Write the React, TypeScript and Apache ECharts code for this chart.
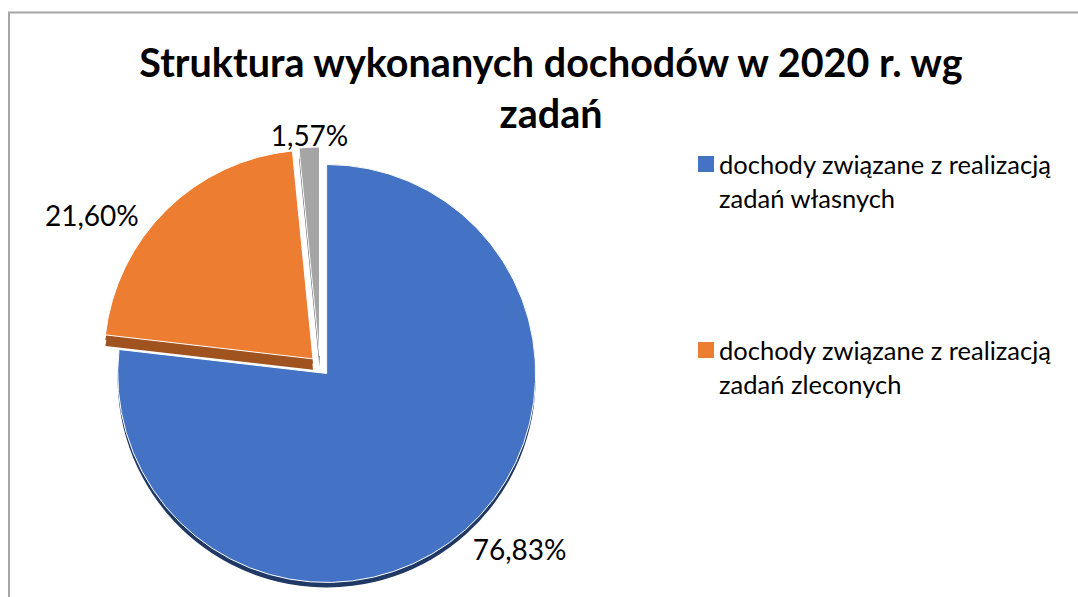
import React, { useEffect, useRef } from 'react';
import * as echarts from 'echarts';

const TITLE_LINES = ['Struktura wykonanych dochodów w 2020 r. wg', 'zadań'];
const categories = [
  'dochody związane z realizacją zadań własnych',
  'dochody związane z realizacją zadań zleconych',
  'pozostałe dochody',
];
const legendLines = [
  ['dochody związane z realizacją', 'zadań własnych'],
  ['dochody związane z realizacją', 'zadań zleconych'],
];
const values = [76.83, 21.6, 1.57];
const exploded = [true, true, true];
const faceColors = ['#4472C4', '#ED7D31', '#A5A5A5'];
const sideColors = ['#1F3864', '#A0521F', '#6B6B6B'];
const labelShift = [
  [-10, 6],
  [-10, 18],
  [45, 6],
];

const CLEAR = 'rgba(0,0,0,0)';
const FONT = 'Lato, "Open Sans", sans-serif';

function fmt(v: number) {
  return v.toFixed(2).replace('.', ',') + '%';
}

export default function App() {
  const ref = useRef<HTMLDivElement>(null);
  useEffect(() => {
    document.body.style.margin = '0';
    const chart = echarts.init(ref.current!, null, { renderer: 'svg' });
    const cx = 320;
    const cy = 366;
    const radius = 209;

    const mkData = (visible: (i: number) => boolean, colors: string[], labels: boolean) =>
      values.map((v, i) => ({
        name: categories[i],
        value: v,
        selected: exploded[i],
        itemStyle: {
          color: visible(i) ? colors[i] : CLEAR,
          borderColor: visible(i) && labels ? '#ffffff' : CLEAR,
          borderWidth: visible(i) && labels ? 1 : 0,
        },
        label: { show: labels && visible(i) },
      }));

    const base = {
      type: 'pie',
      radius,
      startAngle: 90,
      clockwise: true,
      selectedMode: 'multiple',
      selectedOffset: 10,
      avoidLabelOverlap: false,
      emphasis: { disabled: true },
      silent: true,
      labelLine: { show: false, length: 18, length2: 0 },
      label: {
        show: true,
        position: 'outside',
        formatter: (p: any) => fmt(p.value),
        fontFamily: FONT,
        fontSize: 28,
        color: '#000',
      },
      labelLayout: (p: any) => ({ dx: labelShift[p.dataIndex][0], dy: labelShift[p.dataIndex][1] }),
    };

    chart.setOption({
      animation: false,
      backgroundColor: '#fff',
      legend: {
        orient: 'vertical',
        left: 693,
        top: 108,
        itemWidth: 16,
        itemHeight: 16,
        itemGap: 84,
        icon: 'rect',
        selectedMode: false,
        data: [0, 1].map((i) => ({ name: categories[i], itemStyle: { color: faceColors[i] } })),
        formatter: (name: string) => '\n' + legendLines[categories.indexOf(name)].join('\n'),
        textStyle: { fontFamily: FONT, fontSize: 25.5, lineHeight: 34, color: '#000' },
      },
      graphic: [
        {
          type: 'rect',
          shape: { x: 9, y: 12.5, width: 1200, height: 800 },
          style: { fill: 'none', stroke: '#A6A6A6', lineWidth: 2 },
          silent: true,
        },
        {
          type: 'text',
          x: 551,
          y: 36,
          silent: true,
          style: {
            text: TITLE_LINES.join('\n'),
            textAlign: 'center',
            textVerticalAlign: 'top',
            fontFamily: FONT,
            fontWeight: 'bold',
            fontSize: 39.5,
            lineHeight: 51,
            fill: '#000',
          },
        },
      ],
      series: [
        { ...base, name: 'depthAll', z: 2, center: [cx, cy + 5], data: mkData(() => true, sideColors, false), label: { show: false } },
        { ...base, name: 'blueFace', z: 3, center: [cx, cy], data: mkData((i) => i === 0, faceColors, true) },
        { ...base, name: 'restDepth', z: 4, center: [cx, cy + 11], data: mkData((i) => i !== 0, sideColors, false), label: { show: false } },
        { ...base, name: 'restFace', z: 5, center: [cx, cy], data: mkData((i) => i !== 0, faceColors, true) },
      ],
    });
    return () => chart.dispose();
  }, []);
  return <div ref={ref} style={{ width: 1078, height: 597 }} />;
}
